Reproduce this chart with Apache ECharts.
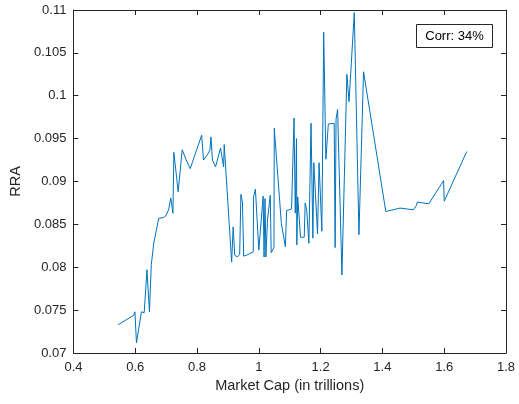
<!DOCTYPE html>
<html>
<head>
<meta charset="utf-8">
<script src="https://cdn.jsdelivr.net/npm/echarts@6/dist/echarts.min.js"></script>
<style>html,body{margin:0;padding:0;background:#fff}#c{width:519px;height:404px}</style>
</head>
<body>
<div id="c"></div>
<script>
var marketCap = [0.545,0.595,0.599,0.604,0.620,0.629,0.638,0.646,0.652,0.660,0.676,0.692,0.699,0.708,0.715,0.722,0.725,0.739,0.752,0.764,0.778,0.815,0.821,0.837,0.842,0.845,0.850,0.860,0.876,0.886,0.888,0.912,0.917,0.920,0.922,0.931,0.938,0.942,0.947,0.951,0.960,0.963,0.971,0.982,0.983,0.989,1.000,1.014,1.017,1.020,1.023,1.028,1.037,1.040,1.049,1.050,1.073,1.086,1.090,1.106,1.114,1.118,1.122,1.123,1.126,1.135,1.147,1.150,1.155,1.162,1.169,1.175,1.178,1.190,1.195,1.204,1.210,1.217,1.225,1.244,1.247,1.250,1.255,1.269,1.285,1.292,1.309,1.324,1.339,1.411,1.457,1.500,1.510,1.513,1.550,1.598,1.600,1.673];
var rra = [0.0733,0.0744,0.0748,0.0712,0.0748,0.0747,0.0797,0.0748,0.0803,0.0828,0.0857,0.0858,0.0860,0.0867,0.0881,0.0863,0.0934,0.0888,0.0937,0.0926,0.0915,0.0954,0.0925,0.0933,0.0937,0.0952,0.0925,0.0917,0.0939,0.0917,0.0943,0.0806,0.0847,0.0848,0.0814,0.0812,0.0815,0.0885,0.0876,0.0813,0.0814,0.0812,0.0816,0.0818,0.0882,0.0891,0.0820,0.0883,0.0812,0.0880,0.0812,0.0855,0.0884,0.0817,0.0823,0.0962,0.0851,0.0824,0.0866,0.0868,0.0974,0.0863,0.0950,0.0826,0.0882,0.0835,0.0835,0.0875,0.0867,0.0828,0.0968,0.0834,0.0922,0.0839,0.0922,0.0842,0.1074,0.0926,0.0967,0.0968,0.0823,0.0973,0.0984,0.0791,0.1025,0.0993,0.1097,0.0838,0.1028,0.0865,0.0869,0.0867,0.0872,0.0876,0.0874,0.0901,0.0877,0.0935];
var xTicks = {min: 0.4, max: 1.8, interval: 0.2};
var yTicks = {min: 0.07, max: 0.11, interval: 0.005};
var corrText = 'Corr: 34%';
var xName = 'Market Cap (in trillions)';
var yName = 'RRA';

var axisCol = '#262626';
var font = 'Liberation Sans, Arial, Helvetica, sans-serif';
function baseAxis(extra) {
  var a = {
    type: 'value',
    axisLine: {show: true, onZero: false, lineStyle: {color: axisCol, width: 1}},
    axisTick: {show: true, inside: true, length: 5, lineStyle: {color: axisCol, width: 1}},
    splitLine: {show: false},
    axisLabel: {color: axisCol, fontSize: 13, fontFamily: font}
  };
  for (var k in extra) a[k] = extra[k];
  return a;
}
var data = marketCap.map(function (x, i) { return [x, rra[i]]; });
var chart = echarts.init(document.getElementById('c'), null, {renderer: 'canvas'});
chart.setOption({
  animation: false,
  backgroundColor: '#fff',
  grid: {left: 71, right: 13, top: 10, bottom: 51, containLabel: false},
  xAxis: [
    baseAxis({min: xTicks.min, max: xTicks.max, interval: xTicks.interval, position: 'bottom',
      name: xName, nameLocation: 'middle', nameGap: 24,
      nameTextStyle: {color: axisCol, fontSize: 14.5, fontFamily: font},
      axisLabel: {color: axisCol, fontSize: 13, fontFamily: font, margin: 8}}),
    baseAxis({min: xTicks.min, max: xTicks.max, interval: xTicks.interval, position: 'top',
      axisLabel: {show: false}})
  ],
  yAxis: [
    baseAxis({min: yTicks.min, max: yTicks.max, interval: yTicks.interval, position: 'left',
      name: yName, nameLocation: 'middle', nameGap: 43,
      nameTextStyle: {color: axisCol, fontSize: 14.5, fontFamily: font},
      axisLabel: {color: axisCol, fontSize: 13, fontFamily: font, margin: 7}}),
    baseAxis({min: yTicks.min, max: yTicks.max, interval: yTicks.interval, position: 'right',
      axisLabel: {show: false}})
  ],
  series: [{
    type: 'line',
    xAxisIndex: 0, yAxisIndex: 0,
    data: data,
    showSymbol: false,
    symbol: 'none',
    lineStyle: {color: '#0072BD', width: 1},
    silent: true
  }],
  graphic: [{
    type: 'group', left: 416, top: 24,
    children: [
      {type: 'rect', shape: {x: 0, y: 0, width: 76, height: 23},
       style: {fill: '#fff', stroke: axisCol, lineWidth: 1}},
      {type: 'text', x: 38, y: 11.5,
       style: {text: corrText, fill: '#000', font: '13px ' + font, textAlign: 'center', textVerticalAlign: 'middle'}}
    ]
  }]
});
</script>
</body>
</html>
